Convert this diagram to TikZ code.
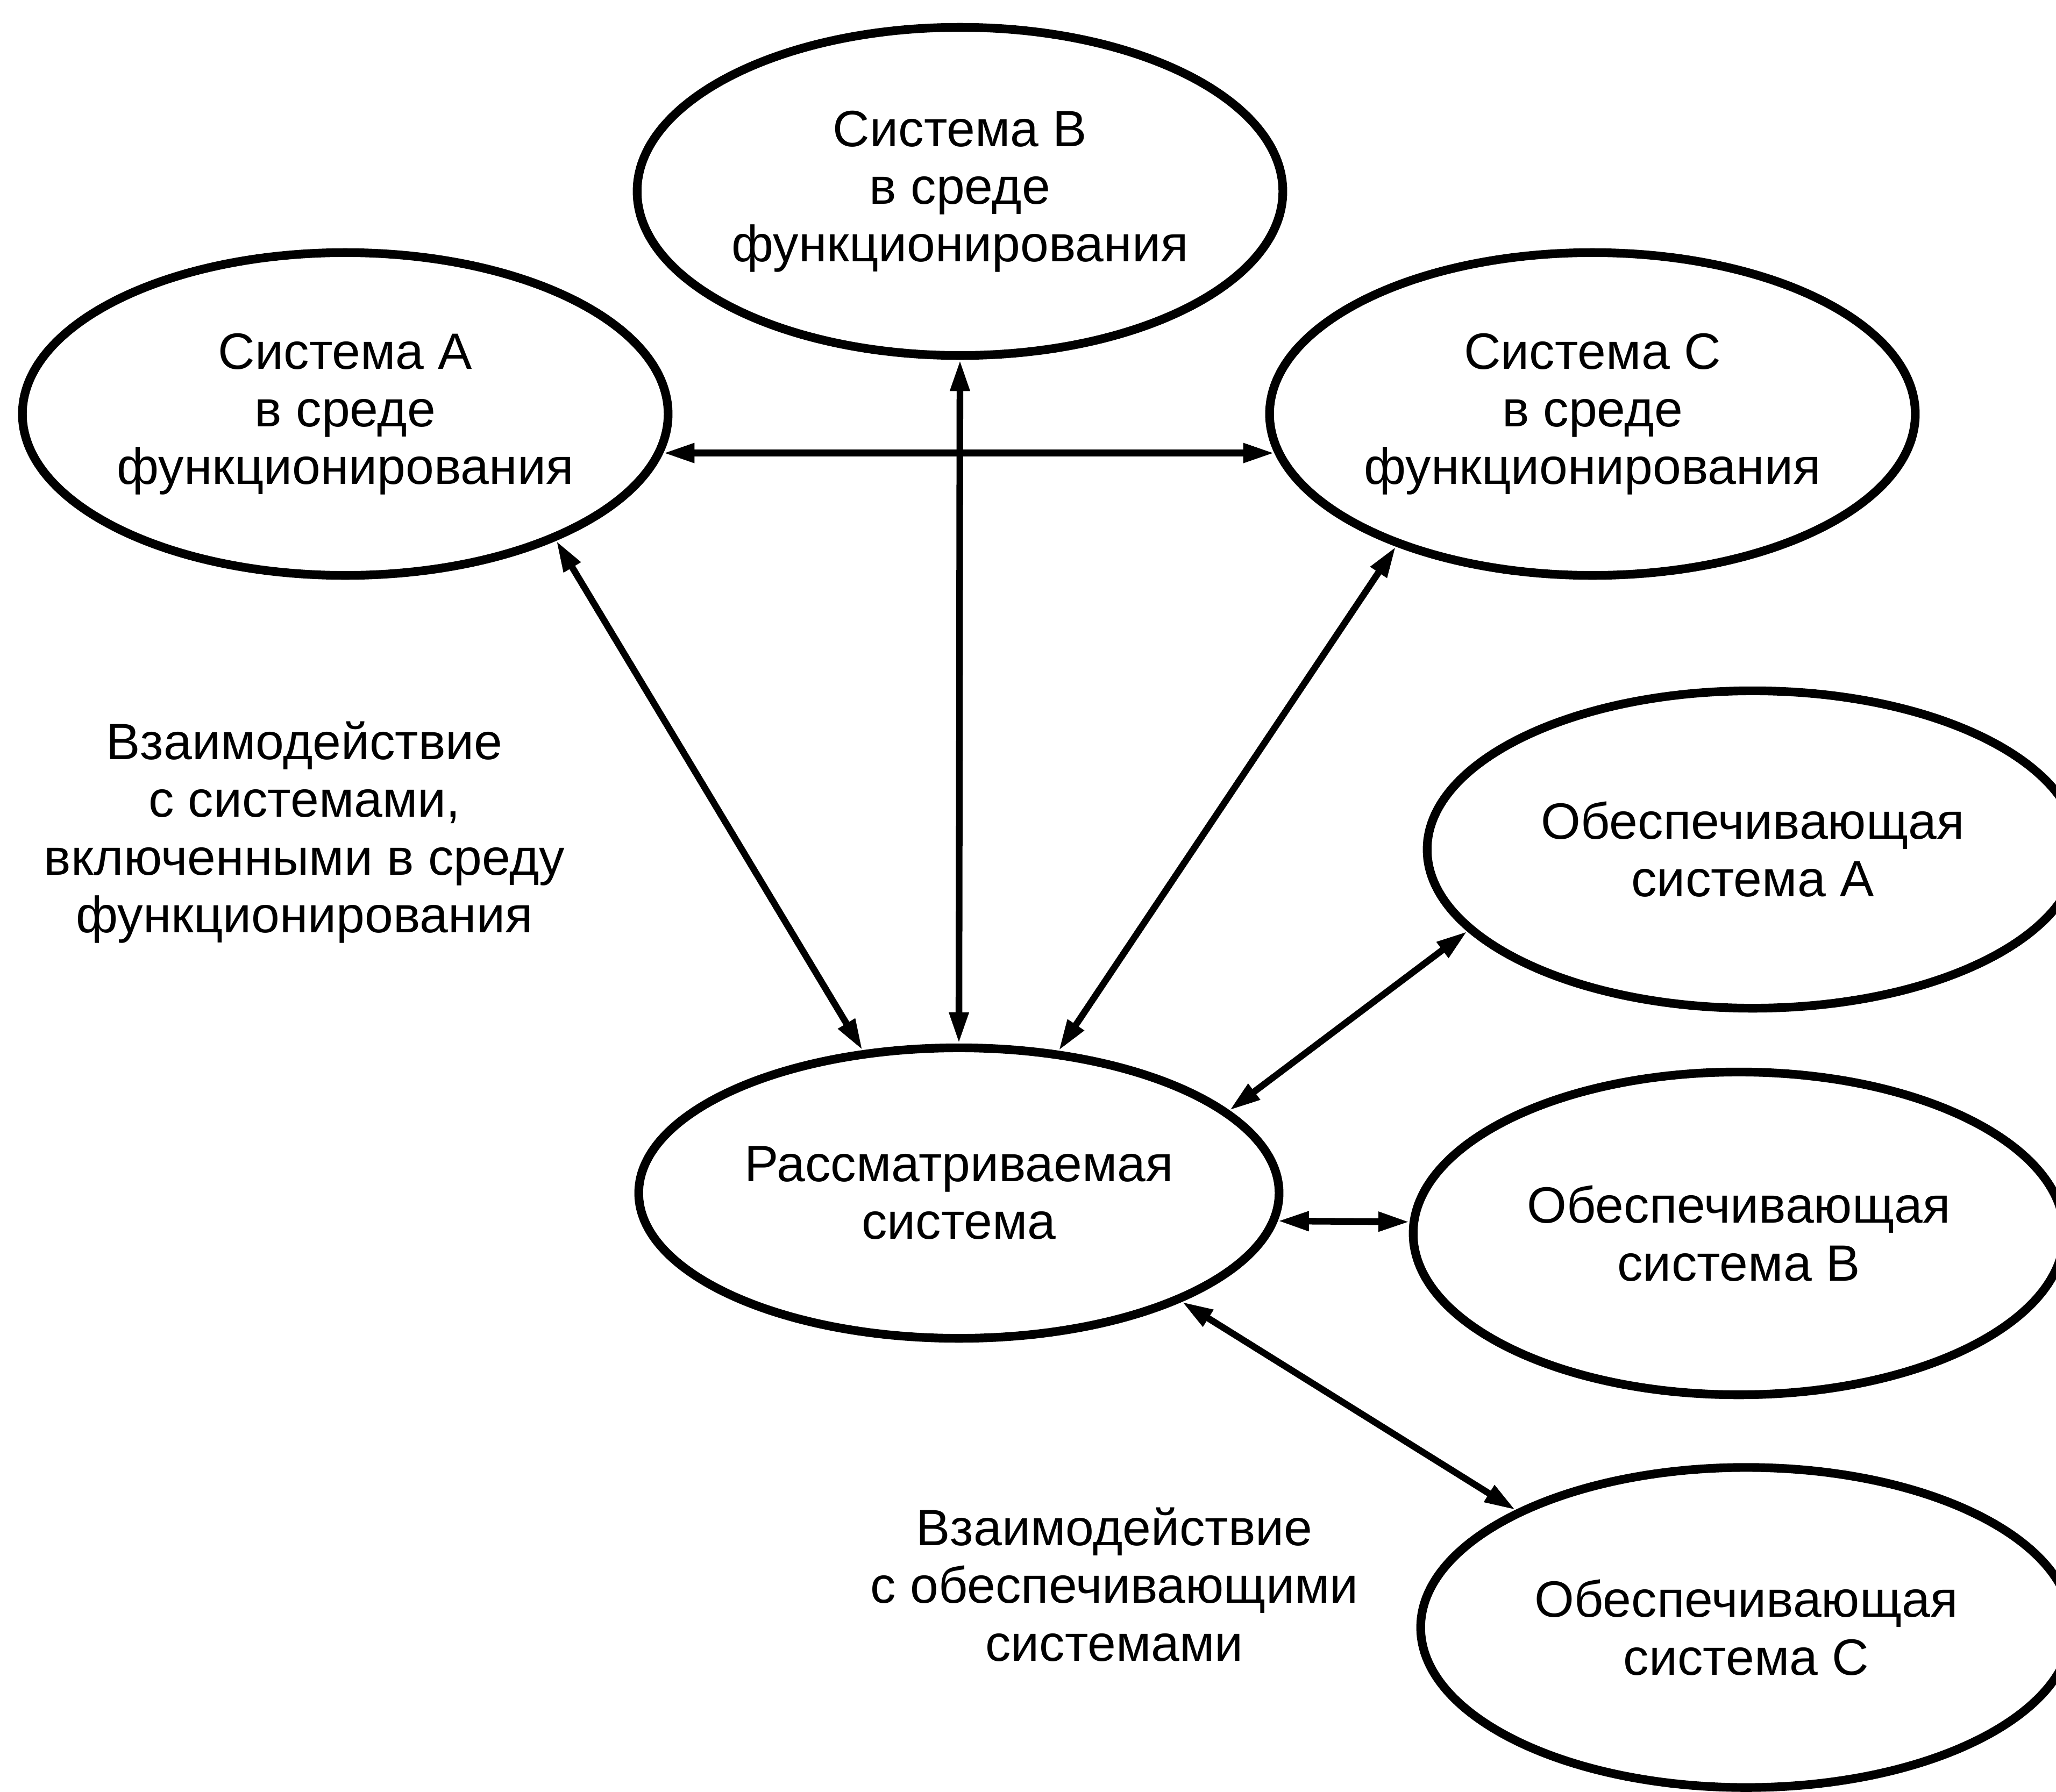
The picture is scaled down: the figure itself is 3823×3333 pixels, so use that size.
\documentclass[tikz,border=0pt]{standalone}
\usepackage{fontspec}
\setmainfont{Liberation Sans}
\usetikzlibrary{shapes.geometric,arrows.meta}
\begin{document}
\begin{tikzpicture}[x=0.01cm,y=-0.01cm,
  sys/.style={ellipse,draw,line width=4.6pt,inner sep=0pt,align=center,
    font=\fontsize{27pt}{30.5pt}\selectfont},
  lbl/.style={align=center,inner sep=0pt,font=\fontsize{27pt}{30.5pt}\selectfont},
  link/.style={{Triangle[length=0.58cm,width=0.34cm]}-{Triangle[length=0.58cm,width=0.34cm]},line width=3.5pt}]
\clip (0,0) rectangle (3823,3333);
\fill[white] (0,0) rectangle (3823,3333);
\node[sys,minimum width=12.0cm,minimum height=6.1cm] (B) at (1785,356) {Система В\\в среде\\функционирования};
\node[sys,minimum width=12.0cm,minimum height=6.0cm] (A) at (642,770) {Система А\\в среде\\функционирования};
\node[sys,minimum width=12.0cm,minimum height=6.0cm] (C) at (2961,770) {Система С\\в среде\\функционирования};
\node[sys,minimum width=11.9cm,minimum height=5.4cm] (R) at (1783,2219) {Рассматриваемая\\система};
\node[sys,minimum width=12.1cm,minimum height=5.9cm] (OA) at (3259,1580) {Обеспечивающая\\система А};
\node[sys,minimum width=12.1cm,minimum height=6.0cm] (OB) at (3233,2294) {Обеспечивающая\\система В};
\node[sys,minimum width=12.1cm,minimum height=5.95cm] (OC) at (3247,3027) {Обеспечивающая\\система С};
\node[lbl] (L1) at (566,1548) {Взаимодействие\\с системами,\\включенными в среду\\функционирования};
\node[lbl] (L2) at (2072,2947) {Взаимодействие\\с обеспечивающими\\системами};
\draw[link] (A.-7.6) -- (C.187.6);
\draw[link] (B.south) -- (R.north);
\draw[link] (A.-31.3) -- (R.124.1);
\draw[link] (C.214.2) -- (R.55);
\draw[link] (R.17.7) -- (OA.196.6);
\draw[link] (R.-5.6) -- (OB.178.4);
\draw[link] (R.-26.4) -- (OC.153.9);
\end{tikzpicture}
\end{document}
